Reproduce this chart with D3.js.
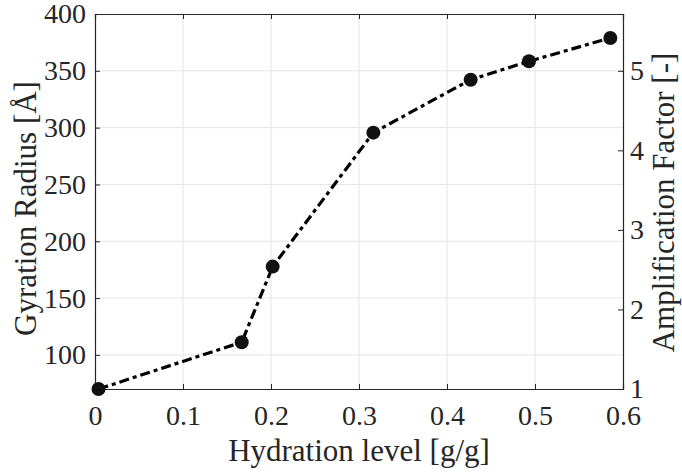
<!DOCTYPE html>
<html>
<head>
<meta charset="utf-8">
<script src="https://cdn.jsdelivr.net/npm/d3@7"></script>
<style>
  body { margin: 0; background: #fff; }
  text { font-family: "Liberation Serif", "Times New Roman", serif; fill: #262626; }
</style>
</head>
<body>
<div id="chart"></div>
<script>
// hydration level vs gyration radius
const hydration = [0.004, 0.1667, 0.2019, 0.3163, 0.4269, 0.4932, 0.5856];
const gyration = [70, 111.2, 177.7, 295.6, 342.2, 358.4, 378.9];
const xTicks = [0, 0.1, 0.2, 0.3, 0.4, 0.5, 0.6];
const leftTicks = [100, 150, 200, 250, 300, 350, 400];
const rightTicks = [1, 2, 3, 4, 5];
const rg0 = 70;

const width = 682, height = 472;
const margin = {top: 14, right: 59, bottom: 83, left: 95};

const svg = d3.select("#chart").append("svg")
    .attr("width", width)
    .attr("height", height);

const x = d3.scaleLinear().domain([0, 0.6]).range([margin.left, width - margin.right]);
const y = d3.scaleLinear().domain([70, 400]).range([height - margin.bottom, margin.top]);
const yR = d3.scaleLinear().domain([1, 400 / rg0]).range([height - margin.bottom, margin.top]);

const x0 = margin.left, x1 = width - margin.right;
const y0 = height - margin.bottom, y1 = margin.top;

// grid
const grid = svg.append("g").attr("stroke", "#e5e5e5").attr("stroke-width", 1);
grid.selectAll(".gx").data(xTicks.slice(1, -1)).enter().append("line")
    .attr("x1", d => x(d)).attr("x2", d => x(d))
    .attr("y1", y0).attr("y2", y1);
grid.selectAll(".gy").data(leftTicks.slice(0, -1)).enter().append("line")
    .attr("x1", x0).attr("x2", x1)
    .attr("y1", d => y(d)).attr("y2", d => y(d));

// axes
svg.append("g")
    .attr("transform", `translate(0,${y0})`)
    .call(d3.axisBottom(x).tickValues(xTicks).tickSize(-5).tickPadding(16).tickFormat(d3.format("")));
svg.append("g")
    .attr("transform", `translate(0,${y1})`)
    .call(d3.axisTop(x).tickValues(xTicks).tickSize(-5).tickFormat(""));
svg.append("g")
    .attr("transform", `translate(${x0},0)`)
    .call(d3.axisLeft(y).tickValues(leftTicks).tickSize(-5).tickPadding(9));
svg.append("g")
    .attr("transform", `translate(${x1},0)`)
    .call(d3.axisRight(yR).tickValues(rightTicks).tickSize(-5).tickPadding(7).tickFormat(d3.format("d")));

svg.selectAll(".domain").attr("stroke", "#262626").attr("stroke-width", 1.2);
svg.selectAll(".tick line").attr("stroke", "#262626");
svg.selectAll(".tick text").style("font-size", "28px").attr("fill", "#262626")
    .style("font-family", "'Liberation Serif', serif");

// axis titles
svg.append("text")
    .attr("x", (x0 + x1) / 2).attr("y", 461)
    .attr("text-anchor", "middle")
    .style("font-size", "31px")
    .text("Hydration level [g/g]");
svg.append("text")
    .attr("transform", `translate(36,${(y0 + y1) / 2 + 7}) rotate(-90)`)
    .attr("text-anchor", "middle")
    .style("font-size", "31px")
    .text("Gyration Radius [Å]");
svg.append("text")
    .attr("transform", `translate(674,${(y0 + y1) / 2 + 1}) rotate(-90)`)
    .attr("text-anchor", "middle")
    .style("font-size", "31px")
    .text("Amplification Factor [-]");

// line + markers
const line = d3.line().x(d => x(d[0])).y(d => y(d[1]));
const pts = hydration.map((h, i) => [h, gyration[i]]);
svg.append("path")
    .datum(pts)
    .attr("d", line)
    .attr("fill", "none")
    .attr("stroke", "#000")
    .attr("stroke-width", 3.2)
    .attr("stroke-dasharray", "10,4,4,4");
svg.selectAll("circle.pt")
    .data(pts).enter()
    .append("circle")
    .attr("cx", d => x(d[0]))
    .attr("cy", d => y(d[1]))
    .attr("r", 7)
    .attr("fill", "#111");
</script>
</body>
</html>
